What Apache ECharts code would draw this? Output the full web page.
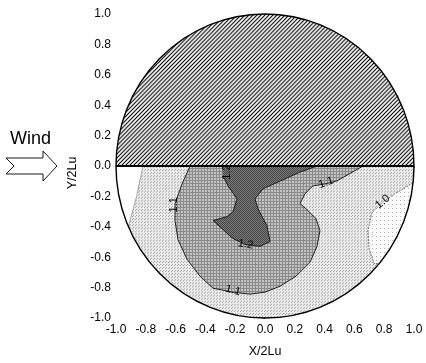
<!DOCTYPE html>
<html>
<head>
<meta charset="utf-8">
<script src="https://cdn.jsdelivr.net/npm/echarts@6/dist/echarts.min.js"></script>
<style>
  html, body { margin: 0; padding: 0; background: #fff; }
  #chart { width: 426px; height: 363px; }
</style>
</head>
<body>
<div id="chart"></div>
<script>
// contour boundaries in (X/2Lu, Y/2Lu)
const contour12 = [[-0.29, 0], [0.35, 0], [0.235, -0.04], [-0.013, -0.15], [-0.067, -0.216],
  [-0.047, -0.281], [0.013, -0.392], [0.034, -0.497], [-0.034, -0.529], [-0.134, -0.516],
  [-0.215, -0.477], [-0.349, -0.359], [-0.255, -0.333], [-0.215, -0.301], [-0.188, -0.216],
  [-0.248, -0.131], [-0.282, -0.065]];
const contour11 = [[-0.503, 0], [-0.557, -0.118], [-0.604, -0.248], [-0.604, -0.359],
  [-0.584, -0.484], [-0.523, -0.614], [-0.436, -0.725], [-0.349, -0.804], [-0.215, -0.83],
  [-0.101, -0.843], [0, -0.83], [0.101, -0.791], [0.208, -0.725], [0.302, -0.634],
  [0.349, -0.529], [0.369, -0.425], [0.342, -0.346], [0.275, -0.281], [0.235, -0.248],
  [0.268, -0.183], [0.322, -0.131], [0.403, -0.118], [0.483, -0.098], [0.658, 0]];
const contour10Left = [[-0.819, 0], [-0.862, -0.2], [-0.917, -0.4]];
const contour10Right = [[0.994, -0.11], [0.872, -0.183], [0.792, -0.235], [0.718, -0.307],
  [0.691, -0.425], [0.698, -0.542], [0.732, -0.641], [0.768, -0.64]];

// contour level labels
const labelPos = [[-0.255, -0.04], [-0.612, -0.255], [-0.13, -0.515], [-0.215, -0.818], [0.41, -0.11], [0.79, -0.235]];
const labelText = ['1.2', '1.1', '1.2', '1.1', '1.1', '1.0'];
const labelRot = [90, 90, -10, -15, 20, 40];

const FONT = 'Liberation Sans, Arial, sans-serif';

function makePattern(size, bg, draw) {
    const c = document.createElement('canvas');
    c.width = size; c.height = size;
    const ctx = c.getContext('2d');
    ctx.fillStyle = bg;
    ctx.fillRect(0, 0, size, size);
    draw(ctx);
    return { image: c, repeat: 'repeat' };
}

const hatch = makePattern(4, '#ffffff', ctx => {
    ctx.strokeStyle = '#000';
    ctx.lineWidth = 1.1;
    ctx.beginPath();
    ctx.moveTo(-1, 5); ctx.lineTo(5, -1);
    ctx.moveTo(-1, 1); ctx.lineTo(1, -1);
    ctx.moveTo(3, 5); ctx.lineTo(5, 3);
    ctx.stroke();
});
const lightDots = makePattern(3, '#ededed', ctx => {
    ctx.fillStyle = '#a4a4a4';
    ctx.fillRect(0, 0, 1, 1);
    ctx.fillRect(2, 1, 1, 1);
});
const sparseDots = makePattern(4, '#fbfbfb', ctx => {
    ctx.fillStyle = '#b8b8b8';
    ctx.fillRect(0, 0, 1, 1);
});
const medium = makePattern(3, '#c4c4c4', ctx => {
    ctx.fillStyle = '#8a8a8a';
    ctx.fillRect(0, 0, 3, 1);
    ctx.fillRect(0, 0, 1, 3);
});
const dark = makePattern(2, '#7a7a7a', ctx => {
    ctx.fillStyle = '#464646';
    ctx.fillRect(0, 0, 1, 1);
    ctx.fillRect(1, 1, 1, 1);
});

function renderPlot(params, api) {
    const c = api.coord([0, 0]);
    const s = api.size([1, 1]);
    const rx = s[0], ry = s[1];
    const px = pts => pts.map(p => api.coord(p));
    const ang = p => Math.atan2(p[1], p[0]);
    const arc = (a0, a1) => {
        const out = [];
        for (let i = 0; i <= 30; i++) {
            const t = a0 + (a1 - a0) * i / 30;
            out.push([c[0] + rx * Math.cos(t), c[1] - ry * Math.sin(t)]);
        }
        return out;
    };
    const half = (a0, a1, fill) => ({
        type: 'sector', x: c[0], y: c[1], scaleY: ry / rx,
        shape: { cx: 0, cy: 0, r0: 0, r: rx, startAngle: a0, endAngle: a1, clockwise: true },
        style: { fill: fill }
    });
    const line = (pts, w, color, dash) => ({
        type: 'polyline', shape: { points: px(pts) },
        style: { fill: null, stroke: color, lineWidth: w, lineDash: dash || null }
    });

    const lastL = contour10Left[contour10Left.length - 1];
    const lastR = contour10Right[contour10Right.length - 1];
    const children = [
        half(0, Math.PI, lightDots),
        { type: 'polygon', shape: { points: px(contour10Left).concat(arc(ang(lastL), -Math.PI)) },
          style: { fill: '#ffffff' } },
        { type: 'polygon', shape: { points: px(contour10Right).concat(arc(ang(lastR), ang(contour10Right[0]))) },
          style: { fill: sparseDots } },
        { type: 'polygon', shape: { points: px(contour11) }, style: { fill: medium } },
        { type: 'polygon', shape: { points: px(contour12) }, style: { fill: dark } },
        line(contour10Left, 0.6, '#777'),
        line(contour10Right, 0.7, '#444', [2, 1]),
        line(contour11, 0.9, '#111'),
        line(contour12, 0.9, '#111'),
        half(Math.PI, 2 * Math.PI, hatch)
    ];
    labelPos.forEach((p, i) => {
        const q = api.coord(p);
        children.push({
            type: 'text', x: q[0], y: q[1], rotation: labelRot[i] * Math.PI / 180,
            style: { text: labelText[i], x: 0, y: 0, fill: '#000', fontSize: 11,
                     fontFamily: FONT, align: 'center', verticalAlign: 'middle' }
        });
    });
    children.push({
        type: 'circle', x: c[0], y: c[1], scaleY: ry / rx,
        shape: { cx: 0, cy: 0, r: rx },
        style: { fill: null, stroke: '#000', lineWidth: 1.4 }
    });
    const a = api.coord([-1, 0]), b = api.coord([1, 0]);
    children.push({
        type: 'line', shape: { x1: a[0], y1: a[1], x2: b[0], y2: b[1] },
        style: { stroke: '#000', lineWidth: 1.8 }
    });
    return { type: 'group', children: children };
}

const chart = echarts.init(document.getElementById('chart'));
const fmt = v => (Math.abs(v) < 1e-9 ? 0 : v).toFixed(1);
const axisCommon = {
    type: 'value', min: -1, max: 1, interval: 0.2,
    axisLine: { show: false },
    axisTick: { show: true, length: 2, lineStyle: { color: '#777' } },
    splitLine: { show: false },
    nameLocation: 'middle'
};
chart.setOption({
    animation: false,
    backgroundColor: '#fff',
    grid: { left: 116, right: 12, top: 14, bottom: 43 },
    xAxis: Object.assign({}, axisCommon, {
        name: 'X/2Lu', nameGap: 27,
        nameTextStyle: { color: '#000', fontSize: 12.5, fontFamily: FONT },
        axisLabel: { formatter: fmt, color: '#000', fontSize: 12, fontFamily: FONT, margin: 6 }
    }),
    yAxis: Object.assign({}, axisCommon, {
        name: 'Y/2Lu', nameGap: 36,
        nameTextStyle: { color: '#000', fontSize: 12.5, fontFamily: FONT, padding: [0, 14, 0, 0] },
        axisLabel: { formatter: fmt, color: '#000', fontSize: 12, fontFamily: FONT, margin: 5 }
    }),
    graphic: [
        { type: 'text', left: 10, top: 130,
          style: { text: 'Wind', fill: '#000', fontSize: 18, fontFamily: FONT } },
        { type: 'polygon',
          shape: { points: [[6, 158], [43, 158], [43, 151], [57, 166], [43, 181], [43, 174], [6, 174], [14, 166]] },
          style: { fill: '#fff', stroke: '#000', lineWidth: 0.9 } }
    ],
    series: [{
        type: 'custom',
        renderItem: renderPlot,
        data: [[0, 0]],
        silent: true
    }]
});
</script>
</body>
</html>
